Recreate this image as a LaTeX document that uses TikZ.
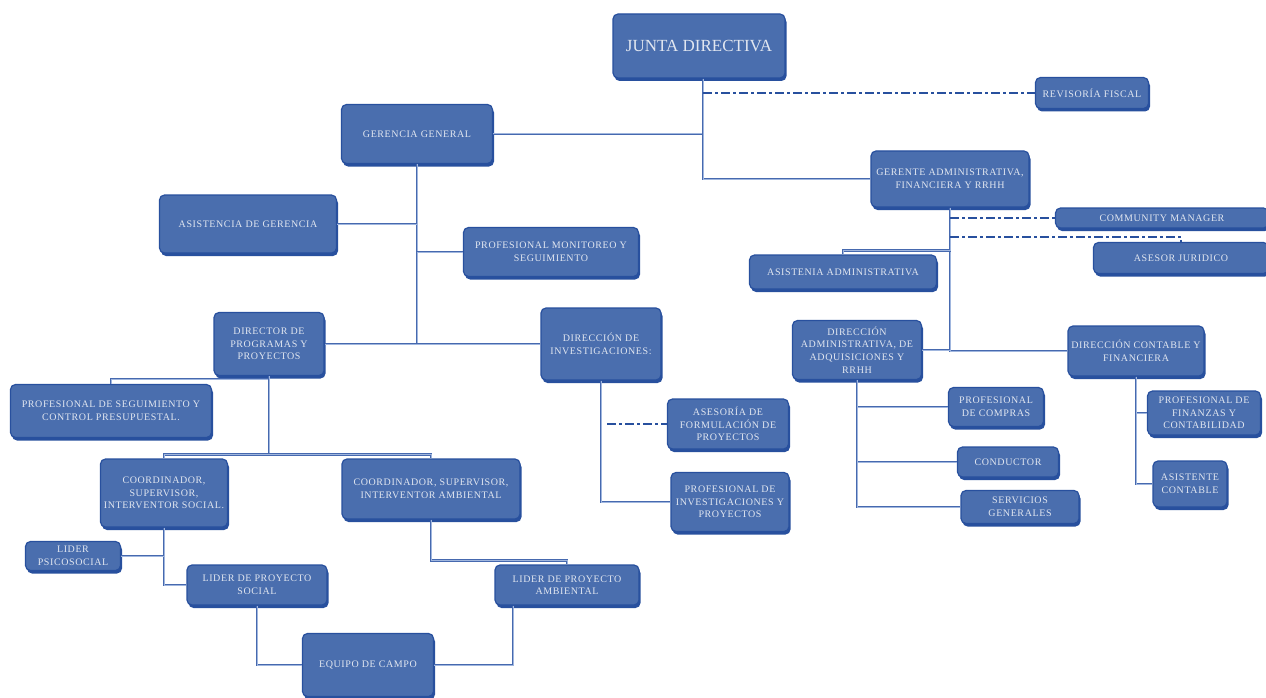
\documentclass[tikz,border=0pt]{standalone}
\usepackage{fontspec}
\setmainfont{Liberation Serif}
\newfontfamily\boxfont[LetterSpace=6]{Liberation Serif}
\usetikzlibrary{shadows,calc}

\definecolor{boxfill}{RGB}{74,110,174}
\definecolor{boxedge}{RGB}{40,80,158}
\definecolor{boxtext}{RGB}{225,230,240}
\definecolor{linkdark}{RGB}{70,105,175}
\definecolor{linklight}{RGB}{160,182,222}

\tikzset{
  cargo/.style={rectangle, rounded corners=5pt, draw=boxedge, line width=1.2pt,
    fill=boxfill, text=boxtext, align=center, inner sep=2pt,
    font=\boxfont\fontsize{10}{12.6}\selectfont,
    drop shadow={shadow xshift=1.5pt, shadow yshift=-3pt, fill=boxedge, opacity=1}},
  boxdim/.style 2 args={minimum width=#1pt, minimum height=#2pt},
  link/.style={draw=linkdark, double=linklight, double distance=1pt, line width=0.8pt},
  assoc/.style={draw=boxedge, line width=2.8pt, dash pattern=on 9pt off 3pt on 3pt off 3pt}
}

\begin{document}
\begin{tikzpicture}[x=1pt, y=-1pt]
\useasboundingbox (0,0) rectangle (1266,698);
\clip (0,0) rectangle (1266,698);
\fill[white] (0,0) rectangle (1266,698);

\node[cargo, boxdim={172}{64}, font=\fontsize{17}{19}\selectfont] (junta) at (699,46) {JUNTA DIRECTIVA};
\node[cargo, boxdim={113}{31}] (revisor) at (1092,93) {REVISORÍA FISCAL};
\node[cargo, boxdim={151}{59}] (gerencia) at (417,134) {GERENCIA GENERAL};
\node[cargo, boxdim={177}{58}] (asistg) at (248,224) {ASISTENCIA DE GERENCIA};
\node[cargo, boxdim={175}{49}] (monitoreo) at (551,252) {PROFESIONAL MONITOREO Y\\ SEGUIMIENTO};
\node[cargo, boxdim={158}{56}] (gerente) at (950,179) {GERENTE ADMINISTRATIVA,\\ FINANCIERA Y RRHH};
\node[cargo, boxdim={213}{20}] (community) at (1162,218) {COMMUNITY MANAGER};
\node[cargo, boxdim={175}{31}] (asesorj) at (1181,258) {ASESOR JURIDICO};
\node[cargo, boxdim={187}{34}] (asistadm) at (843,272) {ASISTENIA ADMINISTRATIVA};
\node[cargo, boxdim={129}{59}] (diradm) at (857,350) {DIRECCIÓN\\ ADMINISTRATIVA, DE\\ ADQUISICIONES Y\\ RRHH};
\node[cargo, boxdim={136}{50}] (dircont) at (1136,351) {DIRECCIÓN CONTABLE Y\\ FINANCIERA};
\node[cargo, boxdim={95}{39}] (compras) at (996,407) {PROFESIONAL\\ DE COMPRAS};
\node[cargo, boxdim={101}{30}] (conductor) at (1008,462) {CONDUCTOR};
\node[cargo, boxdim={118}{33}] (servicios) at (1020,507) {SERVICIOS\\ GENERALES};
\node[cargo, boxdim={113}{44}] (finanzas) at (1204,413) {PROFESIONAL DE\\ FINANZAS Y\\ CONTABILIDAD};
\node[cargo, boxdim={74}{46}] (asistcont) at (1190,484) {ASISTENTE\\ CONTABLE};
\node[cargo, boxdim={110}{63}] (director) at (269,344) {DIRECTOR DE\\ PROGRAMAS Y\\ PROYECTOS};
\node[cargo, boxdim={120}{72}] (invest) at (601,344) {DIRECCIÓN DE\\ INVESTIGACIONES:};
\node[cargo, boxdim={121}{50}] (asesoria) at (728,424) {ASESORÍA DE\\ FORMULACIÓN DE\\ PROYECTOS};
\node[cargo, boxdim={118}{59}] (profinv) at (730,502) {PROFESIONAL DE\\ INVESTIGACIONES Y\\ PROYECTOS};
\node[cargo, boxdim={201}{53}] (seguim) at (111,411) {PROFESIONAL DE SEGUIMIENTO Y\\ CONTROL PRESUPUESTAL.};
\node[cargo, boxdim={127}{68}] (coordsoc) at (164,493) {COORDINADOR,\\ SUPERVISOR,\\ INTERVENTOR SOCIAL.};
\node[cargo, boxdim={178}{60}] (coordamb) at (431,489) {COORDINADOR, SUPERVISOR,\\ INTERVENTOR AMBIENTAL};
\node[cargo, boxdim={95}{29}] (psico) at (73,556) {LIDER\\ PSICOSOCIAL};
\node[cargo, boxdim={140}{40}] (lidsoc) at (257,585) {LIDER DE PROYECTO\\ SOCIAL};
\node[cargo, boxdim={144}{40}] (lidamb) at (567,585) {LIDER DE PROYECTO\\ AMBIENTAL};
\node[cargo, boxdim={131}{63}] (equipo) at (368,665) {EQUIPO DE CAMPO};

\coordinate (jbase) at ([xshift=4pt]junta.south);
\coordinate (invx) at ([xshift=6pt]invest.south);
\coordinate (jurtop) at ([yshift=5pt]asesorj.north);

\draw[link] (gerencia.east) -| (jbase);
\draw[link] (jbase) |- (gerente.west);
\draw[assoc] (jbase |- revisor.west) -- (revisor.west);

\draw[link] (gerente.south) |- (dircont.west);
\draw[link] (gerente.south |- diradm.east) -- (diradm.east);
\draw[link] (asistadm.north) -- ++(0,-4) -| (gerente.south);
\draw[assoc] (gerente.south |- community.west) -- (community.west);
\draw[assoc] (gerente.south |- jurtop) -| (asesorj.north);

\draw[link] (diradm.south) |- (compras.west);
\draw[link] (diradm.south) |- (conductor.west);
\draw[link] (diradm.south) |- (servicios.west);
\draw[link] (dircont.south) |- (finanzas.west);
\draw[link] (dircont.south) |- (asistcont.west);

\draw[link] (gerencia.south) |- (director.east);
\draw[link] (gerencia.south |- invest.west) -- (invest.west);
\draw[link] (asistg.east) -- (asistg.east -| gerencia.south);
\draw[link] (gerencia.south |- monitoreo.west) -- (monitoreo.west);

\draw[link] (invest.south) |- (profinv.west);
\draw[assoc] (invx |- asesoria.west) -- (asesoria.west);

\draw[link] (director.south) -- ++(0,3) -| (seguim.north);
\draw[link] (director.south) |- ($(coordsoc.north)+(0,-4)$);
\draw[link] (coordsoc.north) -- ++(0,-4) -| (coordamb.north);

\draw[link] (coordsoc.south) |- (lidsoc.west);
\draw[link] (psico.east) -- (psico.east -| coordsoc.south);
\draw[link] (coordamb.south) |- ($(lidamb.north)+(0,-4)$) -- (lidamb.north);

\draw[link] (lidsoc.south) |- (equipo.west);
\draw[link] ([xshift=-54pt]lidamb.south) |- (equipo.east);
\end{tikzpicture}
\end{document}
